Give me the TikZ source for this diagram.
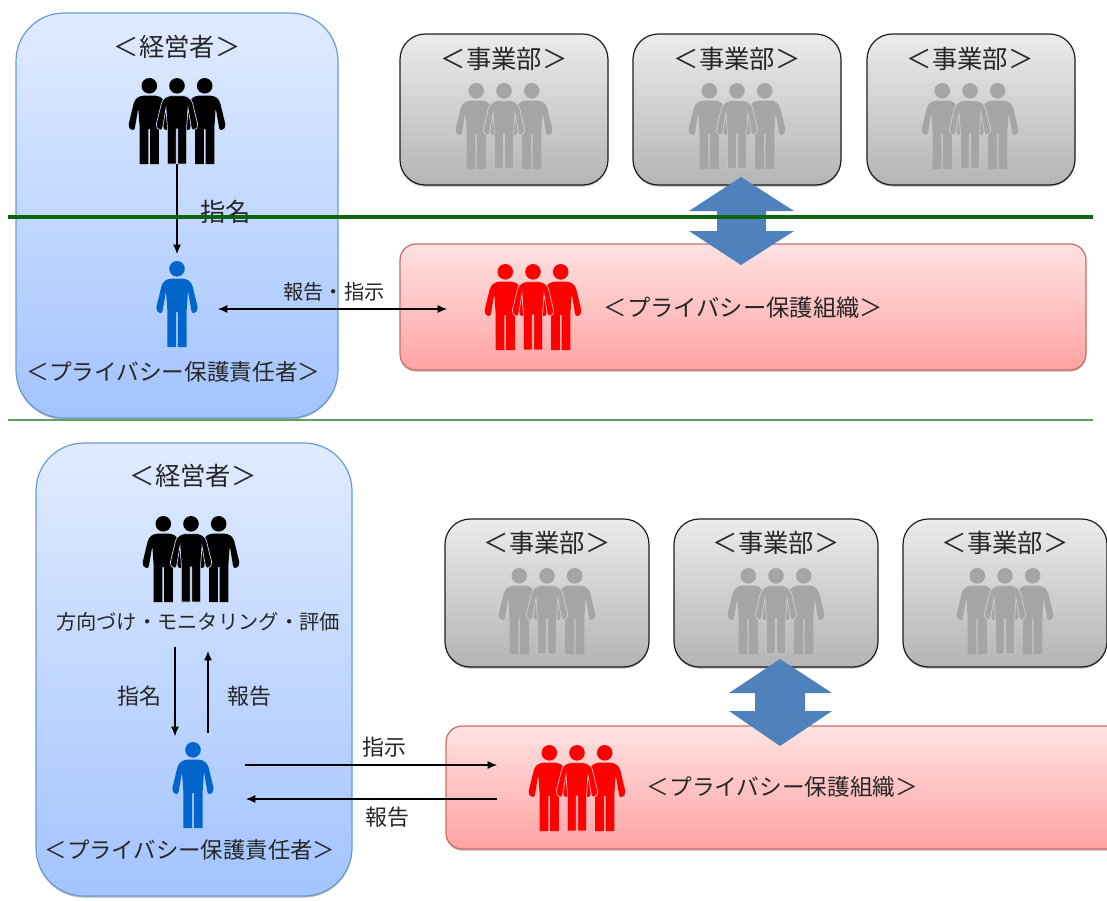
\documentclass[tikz,border=0pt]{standalone}
\usepackage{fontspec}
\setmainfont{Noto Sans CJK JP}
\usetikzlibrary{shadows,arrows.meta}
\definecolor{execTop}{HTML}{E0EBFF}
\definecolor{execBot}{HTML}{A3C4FF}
\definecolor{execLine}{HTML}{6A9BD0}
\definecolor{grayTop}{HTML}{EBEBEB}
\definecolor{grayBot}{HTML}{B4B4B4}
\definecolor{grayLine}{HTML}{1E1E1E}
\definecolor{redTop}{HTML}{FFE2E2}
\definecolor{redBot}{HTML}{FFA3A3}
\definecolor{redLine}{HTML}{CF6A6A}
\definecolor{dblue}{HTML}{4F81BD}
\definecolor{pblue}{HTML}{0066CC}
\definecolor{pgray}{HTML}{A5A5A5}
\definecolor{lineA}{HTML}{0F640F}
\definecolor{lineB}{HTML}{5F9F5F}
\tikzset{
  softshadow/.style={drop shadow={shadow xshift=0pt,shadow yshift=-1.2pt,opacity=.28,fill=black}},
  panel/.style={rectangle,inner sep=0pt,softshadow},
  execbox/.style={panel,draw=execLine,line width=.9pt,top color=execTop,bottom color=execBot,rounded corners=36pt},
  divbox/.style={panel,draw=grayLine,line width=.9pt,top color=grayTop,bottom color=grayBot,rounded corners=19pt},
  orgbox/.style={panel,draw=redLine,line width=.9pt,top color=redTop,bottom color=redBot,rounded corners=12pt},
  tbig/.style={inner sep=0pt,font=\fontsize{19}{21}\selectfont,text=black!85},
  tmid/.style={inner sep=0pt,font=\fontsize{17}{20}\selectfont,text=black!85},
  trespb/.style={inner sep=0pt,font=\fontsize{16.8}{20}\selectfont,text=black!85},
  torg/.style={inner sep=0pt,font=\fontsize{17.5}{20}\selectfont,text=black!85},
  tsmall/.style={inner sep=0pt,font=\fontsize{15.2}{18}\selectfont,text=black!85},
  tlab/.style={inner sep=0pt,font=\fontsize{16.5}{18}\selectfont,text=black!85},
  conn/.style={draw=black,line width=.8pt,-{Latex[length=7pt,width=6pt]}},
  connb/.style={draw=black,line width=.8pt,{Latex[length=7pt,width=6pt]}-{Latex[length=7pt,width=6pt]}},
  blockarrow/.style={fill=dblue},
  pics/person/.style={code={
    \fill[pic actions,draw=none] (0,7.8) circle (7.8);
    \path[pic actions]
      (0,17.7) -- (6,17.7) .. controls (10,18) and (14,20) .. (15.5,25)
      -- (20.6,46) .. controls (21,49) and (19.5,52) .. (17,52) .. controls (15.5,52) and (14.8,51.5) .. (14.4,50)
      -- (11,30) -- (9.6,50)
      -- (9.6,86) -- (0.9,86) -- (0.9,51) -- (-0.9,51) -- (-0.9,86) -- (-9.6,86)
      -- (-9.6,50) -- (-11,30) -- (-14.4,50) .. controls (-14.8,51.5) and (-15.5,52) .. (-17,52)
      .. controls (-19.5,52) and (-21,49) .. (-20.6,46)
      -- (-15.5,25) .. controls (-14,20) and (-10,18) .. (-6,17.7) -- cycle;
  }},
  pics/crowd/.style n args={2}{code={
    \pic[fill=#1] at (-27.7,0) {person};
    \pic[fill=#1] at (27.7,0) {person};
    \pic[fill=#1,draw=#2,line width=.5pt] at (0,0) {person};
  }},
}
\newcommand\rbox[6]{\node[#2,minimum width={(#5-#3)*0.75pt},minimum height={(#6-#4)*0.75pt}] (#1) at ({(#3+#5)/2},{(#4+#6)/2}) {};}
\begin{document}
\begin{tikzpicture}[x=0.75pt,y=-0.75pt]
\useasboundingbox (0,0) rectangle (1107,900);
\clip (0,0) rectangle (1107,900);
% ---------- upper diagram ----------
\rbox{execA}{execbox}{16}{13}{338}{418}
\rbox{divA1}{divbox}{400}{34}{608}{185}
\rbox{divA2}{divbox}{633}{34}{841}{185}
\rbox{divA3}{divbox}{867}{34}{1075}{185}
\rbox{orgA}{orgbox}{400}{244}{1086}{370}
\node[tbig] (tExecA) at (177,47) {＜経営者＞};
\pic at (177,78) {crowd={black}{execTop!70!execBot}};
\pic[fill=pblue] at (177,261) {person};
\node[tmid] (tRespA) at (173.5,372) {＜プライバシー保護責任者＞};
\node[tbig] (tDivA1) at (504,59) {＜事業部＞};
\node[tbig] (tDivA2) at (737,59) {＜事業部＞};
\node[tbig] (tDivA3) at (970,59) {＜事業部＞};
\pic at (504,83) {crowd={pgray}{grayTop!50!grayBot}};
\pic at (737,83) {crowd={pgray}{grayTop!50!grayBot}};
\pic at (970,83) {crowd={pgray}{grayTop!50!grayBot}};
\pic at (533,264) {crowd={red}{redTop!50!redBot}};
\node[torg] (tOrgA) at (743.5,308) {＜プライバシー保護組織＞};
\node[tsmall] (tRepA) at (334,292) {報告・指示};
\node[tbig] (tApptA) at (225.5,212) {指名};
\coordinate (a1) at (177,164);
\coordinate (a2) at (177,254);
\coordinate (a3) at (218,309);
\coordinate (a4) at (447,309);
\draw[conn] (a1) -- (a2);
\draw[connb] (a3) -- (a4);
\path[blockarrow] (741,177) -- (794,211) -- (766,211) -- (766,231) -- (794,231) -- (741,265)
  -- (689,231) -- (717,231) -- (717,211) -- (689,211) -- cycle;
\coordinate (g1) at (8,217);
\coordinate (g2) at (1093,217);
\coordinate (g3) at (8,420);
\coordinate (g4) at (1093,420);
\draw[lineA,line width=3pt] (g1) -- (g2);
\draw[lineB,line width=1pt] (g3) -- (g4);
% ---------- lower diagram ----------
\rbox{execB}{execbox}{36}{443}{352}{896}
\rbox{divB1}{divbox}{445}{519}{649}{667}
\rbox{divB2}{divbox}{674}{519}{878}{667}
\rbox{divB3}{divbox}{903}{519}{1107}{667}
\rbox{orgB}{orgbox}{446}{726}{1130}{849}
\node[tbig] (tExecB) at (193,476) {＜経営者＞};
\begin{scope}[shift={(191,516)},scale=.98]
\pic at (0,0) {crowd={black}{execTop!70!execBot}};
\end{scope}
\node[tsmall] (tDirect) at (198,622) {方向づけ・モニタリング・評価};
\begin{scope}[shift={(193,742)},scale=.98]
\pic[fill=pblue] at (0,0) {person};
\end{scope}
\node[trespb] (tRespB) at (190,850) {＜プライバシー保護責任者＞};
\node[tbig] (tDivB1) at (547,543) {＜事業部＞};
\node[tbig] (tDivB2) at (776,543) {＜事業部＞};
\node[tbig] (tDivB3) at (1005,543) {＜事業部＞};
\begin{scope}[shift={(547,568)},scale=.97]
\pic at (0,0) {crowd={pgray}{grayTop!50!grayBot}};
\end{scope}
\begin{scope}[shift={(776,568)},scale=.97]
\pic at (0,0) {crowd={pgray}{grayTop!50!grayBot}};
\end{scope}
\begin{scope}[shift={(1005,568)},scale=.97]
\pic at (0,0) {crowd={pgray}{grayTop!50!grayBot}};
\end{scope}
\begin{scope}[shift={(577,745)},scale=.98]
\pic at (0,0) {crowd={red}{redTop!50!redBot}};
\end{scope}
\node[tmid] (tOrgB) at (782.5,787) {＜プライバシー保護組織＞};
\node[tlab] (tAppt) at (139,696) {指名};
\node[tlab] (tRepUp) at (249.5,696) {報告};
\node[tlab] (tInst) at (384,747) {指示};
\node[tlab] (tRepB) at (387.5,817) {報告};
\coordinate (b1) at (175,647);
\coordinate (b2) at (175,736);
\coordinate (b3) at (208,733);
\coordinate (b4) at (208,651);
\coordinate (b5) at (245,765);
\coordinate (b6) at (497,765);
\coordinate (b7) at (497,799);
\coordinate (b8) at (246,799);
\draw[conn] (b1) -- (b2);
\draw[conn] (b3) -- (b4);
\draw[conn] (b5) -- (b6);
\draw[conn] (b7) -- (b8);
\path[blockarrow] (780,659) -- (832,693) -- (805,693) -- (805,711) -- (832,711) -- (780,746)
  -- (729,711) -- (755,711) -- (755,693) -- (729,693) -- cycle;
\end{tikzpicture}
\end{document}
